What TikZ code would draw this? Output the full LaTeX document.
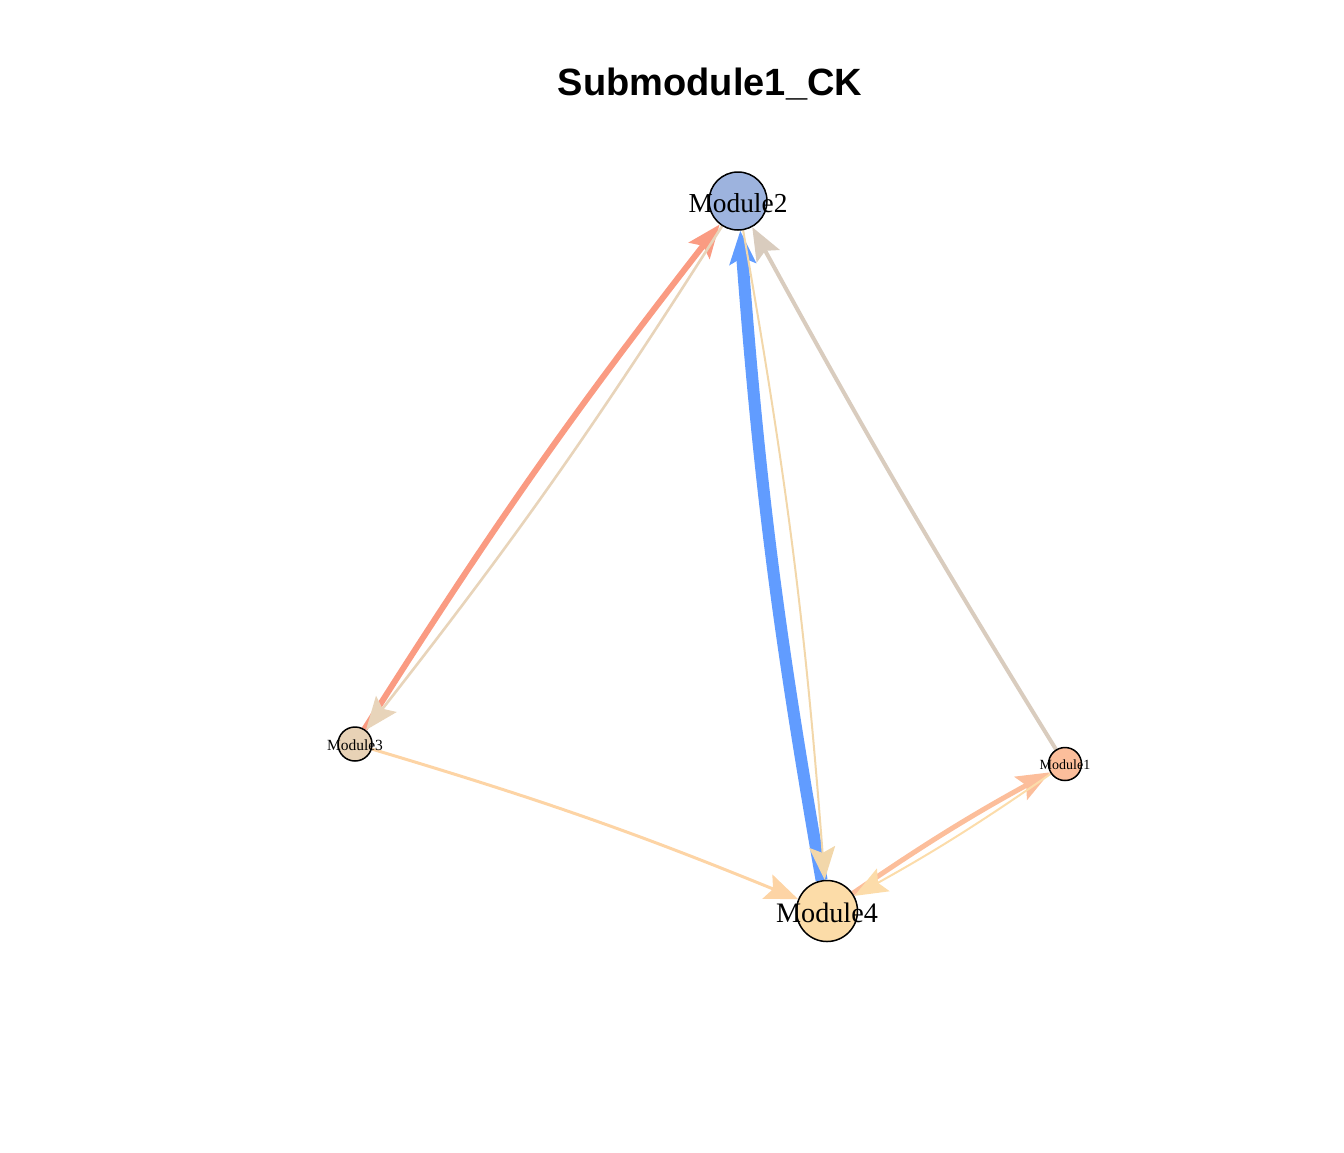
\documentclass[tikz,border=0pt]{standalone}
\usepackage{fontspec}
\setmainfont{Liberation Serif}
\newfontfamily\titlefont{Liberation Sans}
\usetikzlibrary{arrows.meta}
\pgfdeclarelayer{edgelayer}
\pgfsetlayers{edgelayer,main}
\definecolor{salmonE}{RGB}{250,155,130}
\definecolor{beigeE}{RGB}{232,212,186}
\definecolor{blueE}{RGB}{97,156,255}
\definecolor{tanE}{RGB}{242,215,170}
\definecolor{greyE}{RGB}{217,204,190}
\definecolor{peachE}{RGB}{253,212,165}
\definecolor{orangeE}{RGB}{252,190,155}
\definecolor{lightE}{RGB}{252,220,170}
\definecolor{fillTwo}{RGB}{157,179,222}
\definecolor{fillThree}{RGB}{232,210,182}
\definecolor{fillOne}{RGB}{252,190,155}
\definecolor{fillFour}{RGB}{252,220,168}
\tikzset{
  vtx/.style={circle, draw=black, line width=1.5pt, inner sep=0pt},
  lbl/.style={anchor=base, inner sep=0pt},
  edg/.style={-{Stealth[length=33pt 0 0, width=26pt 0 0, inset=6pt]}, bend left=2.8},
}
\begin{document}
\begin{tikzpicture}[x=1pt,y=-1pt]
\useasboundingbox (0,0) rectangle (1344,1152);
\node[font=\titlefont\bfseries\fontsize{38}{40}\selectfont, anchor=base] (title) at (710,95) {Submodule1\_CK};
\node[vtx, fill=fillTwo, minimum size=58pt] (m2) at (738,201) {};
\node[vtx, fill=fillThree, minimum size=34pt] (m3) at (355,744) {};
\node[vtx, fill=fillOne, minimum size=33pt] (m1) at (1065,764) {};
\node[vtx, fill=fillFour, minimum size=61pt] (m4) at (827,911) {};
\node[lbl, font=\fontsize{27.4}{30}\selectfont, yshift=-11pt] (l2) at (m2.center) {Module2};
\node[lbl, font=\fontsize{15.5}{17}\selectfont, yshift=-6pt] (l3) at (m3.center) {Module3};
\node[lbl, font=\fontsize{14}{16}\selectfont, yshift=-5.5pt] (l1) at (m1.center) {Module1};
\node[lbl, font=\fontsize{28.2}{31}\selectfont, yshift=-11pt] (l4) at (m4.center) {Module4};
\begin{pgfonlayer}{edgelayer}
\draw[edg, draw=salmonE, line width=6pt] (m3) to (m2);
\draw[edg, draw=beigeE, line width=2.6pt] (m2) to (m3);
\draw[edg, draw=blueE, line width=12pt] (m4) to (m2);
\draw[edg, draw=tanE, line width=2pt] (m2) to (m4);
\draw[edg, draw=greyE, line width=4pt, bend left=1.5] (m1) to (m2);
\draw[edg, draw=peachE, line width=3pt] (m3) to (m4);
\draw[edg, draw=orangeE, line width=5pt] (m4) to (m1);
\draw[edg, draw=lightE, line width=2pt] (m1) to (m4);
\end{pgfonlayer}
\end{tikzpicture}
\end{document}
